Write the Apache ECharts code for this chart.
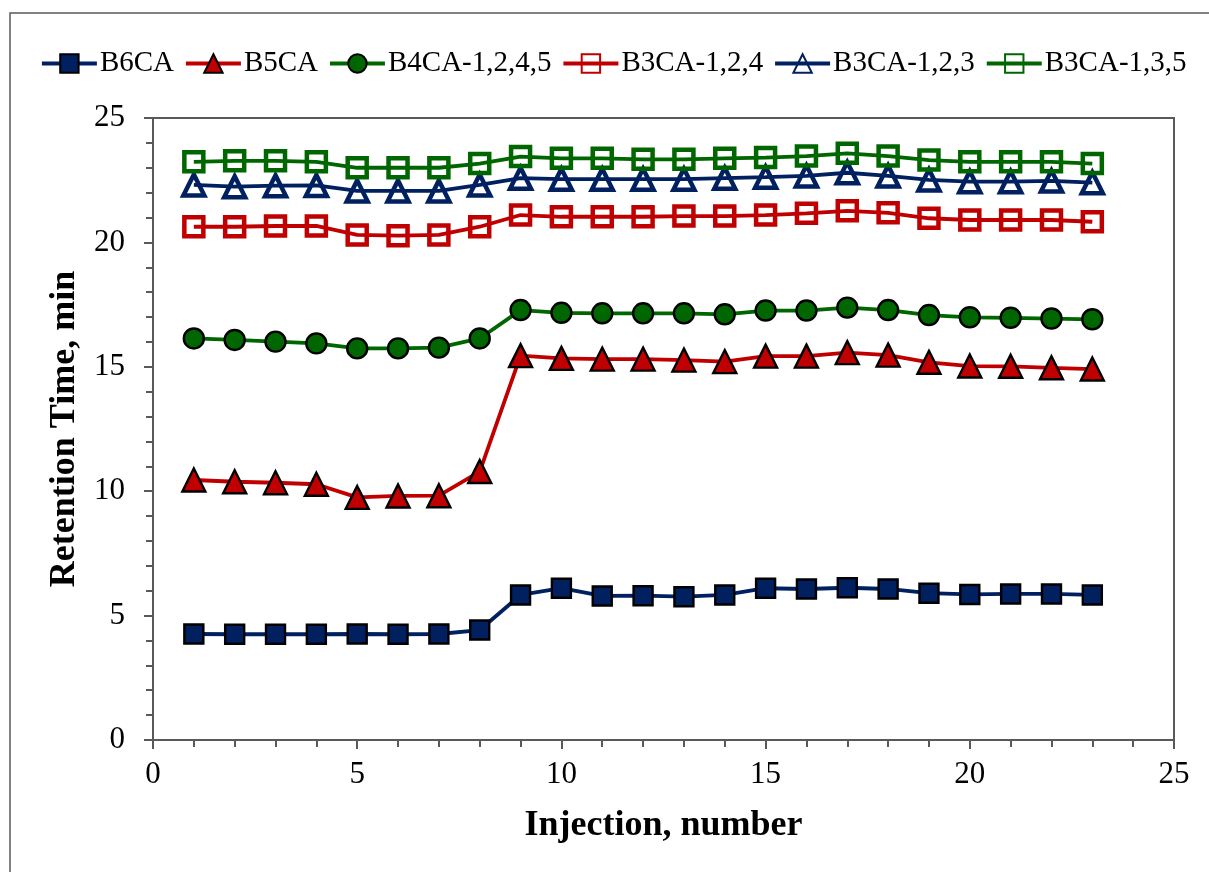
<!DOCTYPE html>
<html>
<head>
<meta charset="utf-8">
<script src="https://cdn.jsdelivr.net/npm/echarts@6/dist/echarts.min.js"></script>
<style>
  html, body { margin: 0; padding: 0; background: #ffffff; }
  #chart { width: 1209px; height: 872px; }
</style>
</head>
<body>
<div id="chart"></div>
<script>
// Injection numbers (x values)
const injections = [1, 2, 3, 4, 5, 6, 7, 8, 9, 10, 11, 12, 13, 14, 15, 16, 17, 18, 19, 20, 21, 22, 23];

// Retention times, min
const b6ca = [4.26, 4.25, 4.25, 4.25, 4.26, 4.25, 4.26, 4.42, 5.83, 6.10, 5.79, 5.80, 5.76, 5.83, 6.10, 6.07, 6.12, 6.07, 5.90, 5.85, 5.87, 5.87, 5.83];
const b5ca = [10.45, 10.38, 10.34, 10.28, 9.75, 9.81, 9.82, 10.79, 15.45, 15.34, 15.31, 15.31, 15.27, 15.21, 15.43, 15.43, 15.57, 15.47, 15.18, 15.03, 15.02, 14.96, 14.91];
const b4ca1245 = [16.14, 16.08, 16.01, 15.94, 15.74, 15.74, 15.77, 16.14, 17.28, 17.17, 17.15, 17.15, 17.15, 17.11, 17.26, 17.26, 17.38, 17.28, 17.08, 16.99, 16.97, 16.94, 16.91];
const b3ca124 = [20.63, 20.63, 20.66, 20.66, 20.30, 20.27, 20.30, 20.63, 21.10, 21.03, 21.03, 21.03, 21.06, 21.06, 21.10, 21.17, 21.27, 21.19, 20.97, 20.90, 20.90, 20.90, 20.83];
const b3ca123 = [22.31, 22.24, 22.28, 22.29, 22.07, 22.07, 22.07, 22.31, 22.58, 22.54, 22.54, 22.54, 22.54, 22.58, 22.62, 22.67, 22.80, 22.67, 22.51, 22.44, 22.44, 22.47, 22.40];
const b3ca135 = [23.24, 23.28, 23.28, 23.24, 23.00, 23.00, 23.00, 23.17, 23.45, 23.38, 23.38, 23.34, 23.34, 23.38, 23.41, 23.47, 23.58, 23.47, 23.31, 23.24, 23.24, 23.24, 23.17];

// Axis ticks
const xTicks = { min: 0, max: 25, interval: 5 };
const yTicks = { min: 0, max: 25, interval: 5 };

const NAVY = '#002060';
const RED = '#C00000';
const GREEN = '#006600';
const AXIS_GRAY = '#595959';
const FONT = '"Liberation Serif", "Times New Roman", serif';

function pairs(ys) {
  return injections.map((x, i) => [x, ys[i]]);
}

function filledSeries(name, ys, color, symbol, size) {
  return {
    name: name,
    type: 'line',
    data: pairs(ys),
    symbol: symbol,
    symbolSize: size,
    lineStyle: { color: color, width: 3.8 },
    itemStyle: { color: color, borderColor: '#000000', borderWidth: 2.4 },
    emphasis: { disabled: true },
    z: 3
  };
}

function openSeries(name, ys, color, symbol, size) {
  return {
    name: name,
    type: 'line',
    data: pairs(ys),
    symbol: symbol,
    symbolSize: size,
    lineStyle: { color: color, width: 3.8 },
    itemStyle: { color: 'rgba(255,255,255,0)', borderColor: color, borderWidth: 4.5 },
    emphasis: { disabled: true },
    z: 3
  };
}

const chart = echarts.init(document.getElementById('chart'), null, { renderer: 'canvas' });

chart.setOption({
  animation: false,
  backgroundColor: '#ffffff',
  textStyle: { fontFamily: FONT },
  graphic: [{
    type: 'rect',
    shape: { x: 10, y: 13, width: 1220, height: 880 },
    style: { fill: 'none', stroke: AXIS_GRAY, lineWidth: 1.5 },
    silent: true,
    z: -1
  }],
  legend: {
    top: 49,
    left: 40,
    width: 1200,
    padding: 0,
    itemWidth: 55,
    itemHeight: 23,
    itemGap: 10,
    lineStyle: { width: 3.8 },
    textStyle: { fontFamily: FONT, fontSize: 29, color: '#000000', padding: [0, 0, 0, -2] },
    data: ['B6CA', 'B5CA', 'B4CA-1,2,4,5', 'B3CA-1,2,4', 'B3CA-1,2,3', 'B3CA-1,3,5']
  },
  grid: {
    left: 153,
    right: 35,
    top: 118,
    bottom: 132,
    show: true,
    borderColor: AXIS_GRAY,
    borderWidth: 2,
    containLabel: false
  },
  xAxis: {
    type: 'value',
    min: xTicks.min,
    max: xTicks.max,
    interval: xTicks.interval,
    name: 'Injection, number',
    nameLocation: 'middle',
    nameGap: 68,
    nameTextStyle: { fontFamily: FONT, fontSize: 36, fontWeight: 'bold', color: '#000000' },
    axisLine: { show: true, lineStyle: { color: AXIS_GRAY, width: 2 } },
    axisTick: { show: true, inside: false, length: 9, lineStyle: { color: AXIS_GRAY, width: 2 } },
    minorTick: { show: true, splitNumber: 5, length: 7, lineStyle: { color: AXIS_GRAY, width: 2 } },
    splitLine: { show: false },
    axisLabel: { fontFamily: FONT, fontSize: 31, color: '#000000', margin: 19 }
  },
  yAxis: {
    type: 'value',
    min: yTicks.min,
    max: yTicks.max,
    interval: yTicks.interval,
    name: 'Retention Time, min',
    nameLocation: 'middle',
    nameGap: 61,
    nameTextStyle: { fontFamily: FONT, fontSize: 36, fontWeight: 'bold', color: '#000000' },
    axisLine: { show: true, lineStyle: { color: AXIS_GRAY, width: 2 } },
    axisTick: { show: true, inside: false, length: 9, lineStyle: { color: AXIS_GRAY, width: 2 } },
    minorTick: { show: true, splitNumber: 5, length: 7, lineStyle: { color: AXIS_GRAY, width: 2 } },
    splitLine: { show: false },
    axisLabel: { fontFamily: FONT, fontSize: 31, color: '#000000', margin: 28 }
  },
  series: [
    filledSeries('B6CA', b6ca, NAVY, 'rect', 19),
    filledSeries('B5CA', b5ca, RED, 'triangle', 23),
    filledSeries('B4CA-1,2,4,5', b4ca1245, GREEN, 'circle', 20),
    openSeries('B3CA-1,2,4', b3ca124, RED, 'rect', 19),
    openSeries('B3CA-1,2,3', b3ca123, NAVY, 'triangle', 21),
    openSeries('B3CA-1,3,5', b3ca135, GREEN, 'rect', 19)
  ]
});
</script>
</body>
</html>
